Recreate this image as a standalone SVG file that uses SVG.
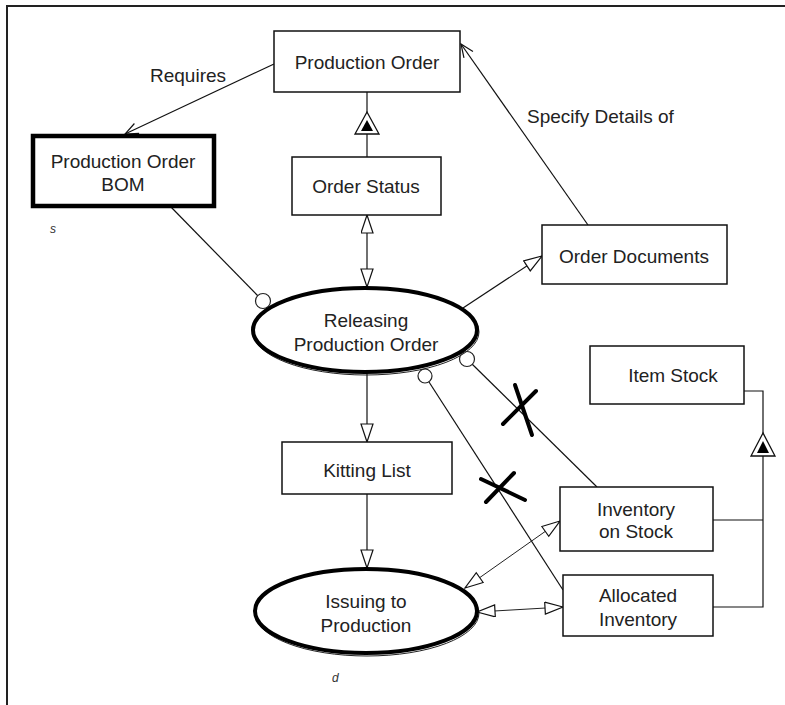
<svg xmlns="http://www.w3.org/2000/svg" width="785" height="705" viewBox="0 0 785 705">
  <style>
    .box { fill: #fff; stroke: #111; stroke-width: 1.5; }
    .bold-box { fill: #fff; stroke: #000; stroke-width: 4.5; }
    .proc { fill: #fff; stroke: #000; stroke-width: 4; }
    .proc-edge { fill: none; stroke: #222; stroke-width: 1; }
    .lbl { font-family: "Liberation Sans", Arial, sans-serif; font-size: 19px; fill: #222; }
    .mid { text-anchor: middle; }
    .note { font-family: "Liberation Sans", Arial, sans-serif; font-size: 12px; font-style: italic; fill: #333; }
    .link { fill: none; stroke: #111; stroke-width: 1.2; }
    .thin { fill: none; stroke: #222; stroke-width: 1; }
    .knob { fill: #fff; stroke: #222; stroke-width: 1.2; }
    .gen { fill: #fff; stroke: #111; stroke-width: 1.3; }
    .gen-core { fill: #000; }
    .cross { stroke: #000; stroke-width: 4; stroke-linecap: round; fill: none; }
  </style>
  <defs>
    <!-- hollow triangular head -->
    <marker id="tri" markerUnits="userSpaceOnUse" markerWidth="20" markerHeight="14" refX="19" refY="6.5" orient="auto-start-reverse">
      <path d="M1,0.5 L19,6.5 L1,12.5 Z" fill="#fff" stroke="#111" stroke-width="1.2"/>
    </marker>
    <!-- open line head -->
    <marker id="vee" markerUnits="userSpaceOnUse" markerWidth="16" markerHeight="14" refX="14" refY="6" orient="auto">
      <path d="M1,0.5 L14,6 L1,11.5" fill="none" stroke="#111" stroke-width="1.2"/>
    </marker>
  </defs>

  <rect width="785" height="705" fill="#fff"/>
  <!-- page frame -->
  <path d="M7,705 V6 H785" fill="none" stroke="#222" stroke-width="2"/>

  <g id="connectors">
    <!-- Requires -->
    <line class="link" x1="274" y1="64" x2="125" y2="134" marker-end="url(#vee)"/>
    <!-- Specify Details of -->
    <line class="link" x1="588" y1="225" x2="461" y2="44" marker-end="url(#vee)"/>
    <!-- Production Order / Order Status generalization -->
    <line class="link" x1="367" y1="92" x2="367" y2="157"/>
    <polygon class="gen" points="367,112 355,134 379,134"/>
    <polygon class="gen-core" points="367,120 361,131 373,131"/>
    <!-- Order Status <-> Releasing -->
    <line class="link" x1="367" y1="215" x2="367" y2="287" marker-start="url(#tri)" marker-end="url(#tri)"/>
    <!-- Releasing -> Order Documents -->
    <line class="link" x1="463" y1="308" x2="542" y2="256" marker-end="url(#tri)"/>
    <!-- BOM - Releasing -->
    <line class="link" x1="170" y1="206" x2="258" y2="296"/>
    <circle class="knob" cx="263" cy="301" r="7.5"/>
    <!-- Releasing -> Kitting List -->
    <line class="link" x1="367" y1="373" x2="367" y2="442" marker-end="url(#tri)"/>
    <!-- Kitting List -> Issuing -->
    <line class="link" x1="367" y1="494" x2="367" y2="568" marker-end="url(#tri)"/>
    <!-- Releasing - Inventory on Stock (struck) -->
    <line class="link" x1="472" y1="364" x2="597" y2="487"/>
    <circle class="knob" cx="467" cy="359" r="7.5"/>
    <!-- Releasing - Allocated Inventory (struck) -->
    <line class="link" x1="429" y1="382" x2="563" y2="590"/>
    <circle class="knob" cx="425" cy="376" r="7"/>
    <!-- strike marks -->
    <line class="cross" x1="503" y1="424" x2="536" y2="391"/>
    <line class="cross" x1="515" y1="385" x2="532" y2="435"/>
    <line class="cross" x1="481" y1="479" x2="525" y2="500"/>
    <line class="cross" x1="514" y1="473" x2="486" y2="502"/>
    <!-- Issuing <-> Inventory on Stock -->
    <line class="thin" x1="465" y1="588" x2="560" y2="521" marker-start="url(#tri)" marker-end="url(#tri)"/>
    <!-- Issuing <-> Allocated Inventory -->
    <line class="thin" x1="477" y1="612" x2="563" y2="607" marker-start="url(#tri)" marker-end="url(#tri)"/>
    <!-- Item Stock generalization -->
    <path class="link" d="M744,391 H763 V607 H713 M713,520 H763"/>
    <polygon class="gen" points="763,433 751,456 775,456"/>
    <polygon class="gen-core" points="763,441 757,453 769,453"/>
  </g>

  <g id="production-order">
    <rect class="box" x="274" y="31" width="186" height="61"/>
    <text class="lbl mid" x="367" y="69">Production Order</text>
  </g>
  <text class="lbl" x="150" y="82">Requires</text>
  <text class="lbl" x="527" y="123">Specify Details of</text>

  <g id="production-order-bom">
    <rect class="bold-box" x="33" y="136" width="181" height="70"/>
    <text class="lbl mid" x="123" y="168">Production Order</text>
    <text class="lbl mid" x="123" y="191">BOM</text>
  </g>
  <text class="note" x="50" y="233">s</text>

  <g id="order-status">
    <rect class="box" x="292" y="157" width="149" height="58"/>
    <text class="lbl mid" x="366" y="193">Order Status</text>
  </g>

  <g id="order-documents">
    <rect class="box" x="542" y="225" width="185" height="59"/>
    <text class="lbl mid" x="634" y="263">Order Documents</text>
  </g>

  <g id="releasing-production-order">
    <ellipse class="proc-edge" cx="366" cy="332" rx="113" ry="43"/>
    <ellipse class="proc" cx="365" cy="330" rx="112" ry="42"/>
    <text class="lbl mid" x="366" y="327">Releasing</text>
    <text class="lbl mid" x="366" y="351">Production Order</text>
  </g>

  <g id="item-stock">
    <rect class="box" x="590" y="346" width="154" height="58"/>
    <text class="lbl mid" x="673" y="382">Item Stock</text>
  </g>

  <g id="kitting-list">
    <rect class="box" x="282" y="442" width="170" height="52"/>
    <text class="lbl mid" x="367" y="477">Kitting List</text>
  </g>

  <g id="inventory-on-stock">
    <rect class="box" x="560" y="487" width="153" height="64"/>
    <text class="lbl mid" x="636" y="516">Inventory</text>
    <text class="lbl mid" x="636" y="538">on Stock</text>
  </g>

  <g id="allocated-inventory">
    <rect class="box" x="563" y="575" width="150" height="61"/>
    <text class="lbl mid" x="638" y="602">Allocated</text>
    <text class="lbl mid" x="638" y="626">Inventory</text>
  </g>

  <g id="issuing-to-production">
    <ellipse class="proc-edge" cx="367" cy="613" rx="112" ry="43"/>
    <ellipse class="proc" cx="366" cy="611" rx="111" ry="42"/>
    <text class="lbl mid" x="366" y="608">Issuing to</text>
    <text class="lbl mid" x="366" y="632">Production</text>
  </g>
  <text class="note" x="332" y="682">d</text>
</svg>
